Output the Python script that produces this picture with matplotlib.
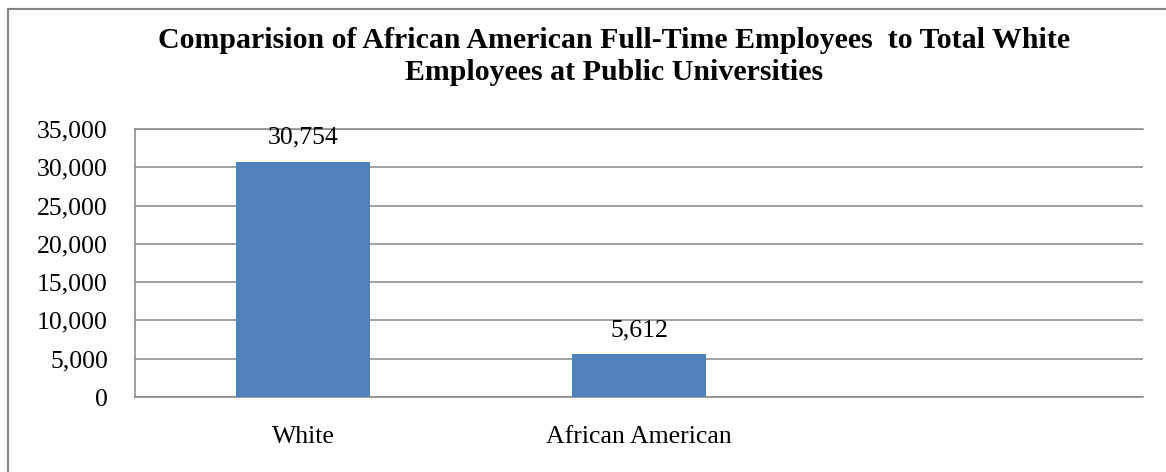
import matplotlib
matplotlib.use('Agg')
import matplotlib.pyplot as plt
import matplotlib.patches as patches
from matplotlib.ticker import FuncFormatter

# Datos del grafico
categorias = ['White', 'African American']
empleados = [30754, 5612]
titulo = ('Comparision of African American Full-Time Employees  to Total White\n'
          'Employees at Public Universities')

plt.rcParams['font.family'] = ['Liberation Serif', 'DejaVu Serif']

gris = '#868686'
azul = '#4F81BD'

fig = plt.figure(figsize=(11.66, 4.72), dpi=100)
ax = fig.add_axes([135 / 1166, 75 / 472, 1008 / 1166, 268 / 472])

x = list(range(len(categorias)))
barras = ax.bar(x, empleados, width=0.4, color=azul, zorder=3)

# Etiquetas de valor encima de cada barra
for b, v in zip(barras, empleados):
    ax.annotate(f'{v:,}', (b.get_x() + b.get_width() / 2, v),
                xytext=(0, 18), textcoords='offset pixels',
                ha='center', va='baseline', fontsize=18.5)

# el grafico original tiene un tercer hueco vacio a la derecha
ax.set_xlim(-0.5, 2.5)
ax.set_ylim(0, 35000)
ax.set_yticks(range(0, 35001, 5000))
ax.yaxis.set_major_formatter(FuncFormatter(lambda v, p: f'{int(v):,}'))
ax.set_xticks(x)
ax.set_xticklabels(categorias)

ax.tick_params(axis='both', length=0, labelsize=18.5)
ax.tick_params(axis='y', pad=19.5)
ax.tick_params(axis='x', pad=21)

ax.grid(axis='y', color=gris, linewidth=1.1, zorder=0)
for lado in ['left', 'bottom', 'top']:
    ax.spines[lado].set_color(gris)
    ax.spines[lado].set_linewidth(1.1)
ax.spines['right'].set_visible(False)

# el titulo va centrado sobre todo el area del grafico, que sigue a la derecha
fig.text(614 / 1166, 1 - 27 / 472, titulo, ha='center', va='top',
         fontsize=21.5, fontweight='bold', linespacing=1.26)

# borde del area del grafico (cortado a la derecha y abajo)
borde = patches.Rectangle((7.5 / 1166, -0.1), 1.2, 1 - 8.5 / 472 + 0.1,
                          transform=fig.transFigure, fill=False,
                          edgecolor=gris, linewidth=1.5, clip_on=False)
fig.patches.append(borde)

fig.savefig('out.png', dpi=100)
